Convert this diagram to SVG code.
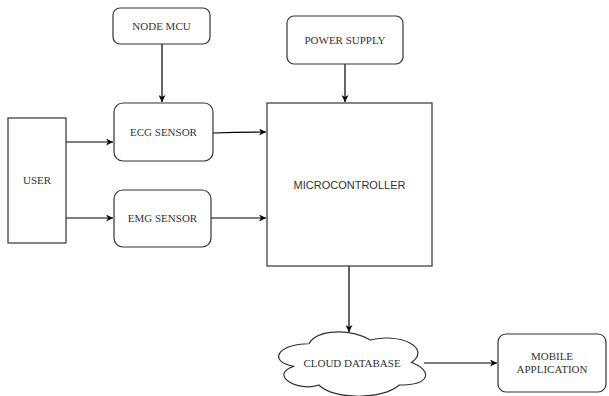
<svg xmlns="http://www.w3.org/2000/svg" width="609" height="396" viewBox="0 0 609 396">
<defs>
<marker id="ah" viewBox="0 0 10 10" refX="10" refY="5" markerWidth="7" markerHeight="7" orient="auto" markerUnits="userSpaceOnUse">
<path d="M0,0 L10,5 L0,10 L3,5 Z" fill="#000"/>
</marker>
<style>
.box{fill:#fff;stroke:#333;stroke-width:1.2}
.t{font-family:"Liberation Serif",serif;font-size:11px;fill:#333;text-anchor:middle}
.s{font-family:"Liberation Sans",sans-serif;font-size:11px;fill:#333;text-anchor:middle}
.c{fill:none;stroke:#000;stroke-width:1.2;marker-end:url(#ah)}
</style>
</defs>
<rect width="609" height="396" fill="#fff"/>
<g id="connectors">
<path class="c" d="M162,44 L162,102"/>
<path class="c" d="M345,64 L345,102"/>
<path class="c" d="M66,142 L113,142"/>
<path class="c" d="M66,218 L113,218"/>
<path class="c" d="M213,133 C240,132 250,132 266,132"/>
<path class="c" d="M211,218 L266,218"/>
<path class="c" d="M349,266 L349,332"/>
<path class="c" d="M424,363 L497,363"/>
</g>
<g id="node-mcu">
<rect class="box" x="113" y="8" width="97" height="36" rx="7"/>
<text class="t" x="161.5" y="30">NODE MCU</text>
</g>
<g id="power-supply">
<rect class="box" x="287" y="16" width="116" height="48" rx="7"/>
<text class="t" x="345" y="44">POWER SUPPLY</text>
</g>
<g id="user">
<rect class="box" x="8" y="118" width="58" height="125"/>
<text class="t" x="37" y="184">USER</text>
</g>
<g id="ecg-sensor">
<rect class="box" x="114" y="103" width="99" height="58" rx="9"/>
<text class="t" x="163.5" y="136">ECG SENSOR</text>
</g>
<g id="emg-sensor">
<rect class="box" x="114" y="190" width="97" height="57" rx="9"/>
<text class="t" x="162.5" y="222">EMG SENSOR</text>
</g>
<g id="microcontroller">
<rect class="box" x="267" y="103" width="165" height="163"/>
<text class="s" x="349.5" y="189">MICROCONTROLLER</text>
</g>
<g id="cloud-database">
<path class="box" d="M309,343.75 C276.2,343.75 268,362.5 294.24,366.25 C268,374.5 297.52,392.5 318.84,385 C333.6,400 382.8,400 399.2,385 C432,385 432,370 411.5,362.5 C432,347.5 399.2,332.5 370.5,340 C350,328.75 317.2,328.75 309,343.75 Z"/>
<text class="t" x="352" y="367">CLOUD DATABASE</text>
</g>
<g id="mobile-application">
<rect class="box" x="498" y="334" width="108" height="58" rx="8"/>
<text class="t" x="552" y="360">MOBILE</text>
<text class="t" x="552" y="373">APPLICATION</text>
</g>
</svg>
